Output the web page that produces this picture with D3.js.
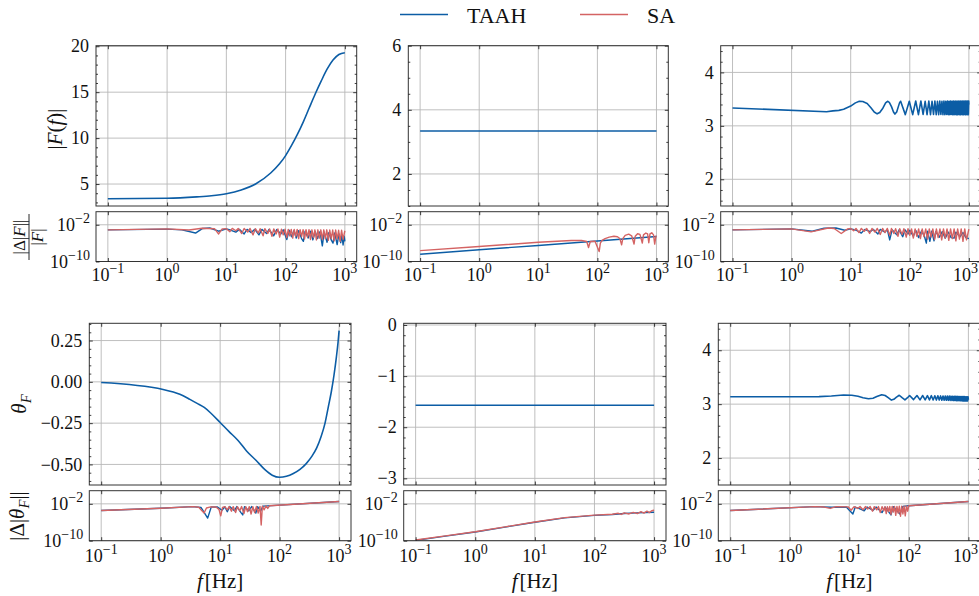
<!DOCTYPE html>
<html><head><meta charset="utf-8">
<script src="https://cdn.jsdelivr.net/npm/d3@7"></script>
<style>
body{margin:0;background:#fff}
svg{display:block}
text{font-family:"Liberation Serif","DejaVu Serif",serif;fill:#111}
</style>
</head><body>
<svg id="c" width="979" height="596"></svg>
<script>
// ---------------- DATA ----------------
const seriesNames = ["TAAH", "SA"];
const xTickVals = [0.1, 1, 10, 100, 1000];
const xTickExps = ["−1", "0", "1", "2", "3"];
const errTickVals = [1e-10, 1e-2];
const errTickExps = ["−10", "−2"];

// main panels: [f (Hz), value]  (TAAH)
const magLeft = [[0.1,3.40],[1,3.45],[3.16,3.6],[5.6,3.72],[10,3.94],[17.8,4.35],[31.6,5.03],[56,6.2],[79,7.2],[100,8.1],[126,9.2],[158,10.4],[200,11.8],[251,13.3],[316,14.8],[398,16.2],[501,17.5],[631,18.5],[794,19.1],[1000,19.3]];
const magMid = [[0.1,3.34],[1000,3.34]];
const magRight = [[0.1,3.335],[3.9,3.265],[5,3.28],[6.3,3.29],[7.6,3.31],[10,3.37],[12,3.43],[14,3.46],[16,3.455],[19,3.42],[22,3.34],[25,3.26],[28,3.225],[31,3.25],[35,3.33],[39,3.43],[42,3.46],[45,3.44],[49,3.36],[53,3.26],[56,3.22],[60,3.26],[64,3.36],[67,3.43],[70,3.46],
[84,3.21],[98,3.46],[112,3.21],[126,3.465],[140,3.21],[154,3.465],[168,3.215],[182,3.46],[196,3.21],[210,3.465],[224,3.21],[238,3.46],[252,3.215],[266,3.465],[280,3.21],[294,3.46],[308,3.21],[322,3.465],[336,3.215],[350,3.46],[364,3.21],[378,3.465],[392,3.21],[406,3.46],[420,3.215],[434,3.465],[448,3.21],[462,3.46],[476,3.21],[490,3.465],[504,3.215],[518,3.46],[532,3.21],[546,3.465],[560,3.21],[574,3.46],[588,3.215],[602,3.465],[616,3.21],[630,3.46],[644,3.21],[658,3.465],[672,3.215],[686,3.46],[700,3.21],[714,3.465],[728,3.21],[742,3.46],[756,3.215],[770,3.465],[784,3.21],[798,3.46],[812,3.21],[826,3.465],[840,3.215],[854,3.46],[868,3.21],[882,3.465],[896,3.21],[910,3.46],[924,3.215],[938,3.465],[952,3.21],[966,3.46],[980,3.21],[994,3.465],[1000,3.40]];

const phaseLeft = [[0.1,-0.004],[1.1,-0.046],[2.1,-0.075],[3.1,-0.106],[4.1,-0.13],[5.4,-0.155],[7,-0.19],[10,-0.246],[14,-0.3],[20,-0.355],[28,-0.42],[40,-0.475],[56,-0.53],[75,-0.565],[100,-0.578],[130,-0.572],[170,-0.555],[220,-0.53],[280,-0.495],[350,-0.45],[420,-0.40],[500,-0.33],[580,-0.25],[660,-0.15],[740,-0.06],[820,0.04],[900,0.15],[960,0.24],[1000,0.31]];
const phaseMid = [[0.1,-1.5708],[1000,-1.5708]];
const phaseRight = [[0.1,3.137],[1.1,3.137],[2.1,3.138],[3.1,3.14],[5,3.15],[8,3.17],[11,3.165],[14,3.145],[17,3.12],[21,3.10],[25,3.11],[29,3.14],[35,3.175],[40,3.16],[45,3.12],[51,3.075],[56,3.09],[62,3.13],[69,3.165],[77,3.12],[86,3.08],[95,3.12],[103,3.16],
[120,3.085],[137,3.16],[154,3.08],[171,3.16],[188,3.08],[205,3.158],[222,3.078],[239,3.157],[256,3.077],[273,3.155],[290,3.076],[307,3.154],[324,3.075],[341,3.153],[358,3.074],[375,3.152],[392,3.073],[409,3.151],[426,3.072],[443,3.15],[460,3.071],[477,3.149],[494,3.07],[511,3.148],[528,3.069],[545,3.147],[562,3.068],[579,3.146],[596,3.067],[613,3.145],[630,3.066],[647,3.144],[664,3.065],[681,3.143],[698,3.064],[715,3.142],[732,3.063],[749,3.141],[766,3.062],[783,3.14],[800,3.061],[817,3.14],[834,3.06],[851,3.139],[868,3.06],[885,3.138],[902,3.06],[919,3.137],[936,3.06],[953,3.136],[970,3.06],[987,3.135],[1000,3.08]];

// error panels: [log10 f, log10 error]
const errMagLeftTAAH = [[-1,-3.1],[0,-2.95],[0.25,-3.1],[0.48,-3.8],[0.6,-2.8],[0.72,-2.7],[0.87,-3.4],[1.0,-2.9],[1.08,-3.2],[1.16,-3.6],[1.22,-3.0],[1.3,-4.0],[1.35,-3.0],[1.42,-3.7],[1.48,-3.0],[1.55,-4.2],[1.6,-3.0],[1.68,-3.9],[1.72,-3.0],[1.8,-4.4],[1.85,-3.05],[1.92,-4.0],[1.96,-3.1],[2.02,-5.2],[2.06,-3.2],[2.1,-4.6],[2.14,-3.3],[2.18,-4.9],[2.22,-3.3],[2.27,-5.0],[2.3,-5.6],[2.33,-3.4],[2.38,-4.9],[2.42,-3.4],[2.46,-5.3],[2.5,-3.5],[2.54,-5.0],[2.58,-3.5],[2.62,-6.6],[2.65,-3.6],[2.7,-5.8],[2.73,-3.7],[2.77,-5.3],[2.8,-6.0],[2.83,-3.8],[2.87,-6.3],[2.9,-4.0],[2.93,-5.9],[2.95,-4.2],[2.97,-6.4],[2.99,-4.5],[3.0,-5.6]];
const errMagLeftSA = [[-1,-3.1],[0,-2.9],[0.37,-3.15],[0.59,-2.75],[0.8,-2.85],[0.87,-4.0],[0.93,-2.9],[1.0,-2.85],[1.06,-3.5],[1.1,-2.8],[1.16,-3.3],[1.2,-2.8],[1.26,-3.9],[1.3,-2.8],[1.36,-3.6],[1.4,-2.8],[1.45,-4.2],[1.49,-2.85],[1.54,-3.8],[1.57,-2.85],[1.62,-4.4],[1.65,-2.85],[1.7,-3.9],[1.73,-2.9],[1.77,-4.5],[1.8,-2.9],[1.84,-4.0],[1.87,-2.9],[1.9,-4.7],[1.93,-2.95],[1.96,-4.2],[1.99,-2.95],[2.02,-4.8],[2.045,-3.0],[2.07,-4.4],[2.095,-3.0],[2.12,-4.9],[2.145,-3.0],[2.17,-4.5],[2.195,-3.0],[2.22,-5.0],[2.245,-3.05],[2.27,-4.6],[2.295,-3.05],[2.32,-5.1],[2.345,-3.05],[2.37,-4.7],[2.395,-3.05],[2.42,-5.2],[2.445,-3.1],[2.47,-4.8],[2.495,-3.1],[2.52,-5.3],[2.545,-3.1],[2.57,-4.9],[2.595,-3.1],[2.62,-5.2],[2.645,-3.1],[2.67,-5.0],[2.695,-3.1],[2.72,-5.4],[2.745,-3.15],[2.77,-5.0],[2.795,-3.15],[2.82,-5.5],[2.845,-3.15],[2.87,-5.1],[2.895,-3.2],[2.92,-5.6],[2.945,-3.2],[2.97,-5.2],[3.0,-3.3]];
const errMagMidTAAH = [[-1,-8.42],[0,-7.45],[1,-6.5],[2,-5.52],[3,-4.55]];
const errMagMidSA = [[-1,-7.62],[0,-6.74],[1,-5.8],[1.56,-5.43],[1.73,-5.43],[1.82,-5.65],[1.85,-6.96],[1.88,-5.65],[1.96,-5.6],[2.03,-7.84],[2.05,-6.0],[2.08,-5.4],[2.13,-5.0],[2.2,-4.7],[2.28,-4.5],[2.34,-4.6],[2.38,-5.0],[2.41,-6.38],[2.43,-5.0],[2.47,-4.3],[2.53,-4.04],[2.58,-4.4],[2.62,-6.2],[2.64,-4.5],[2.68,-3.95],[2.72,-4.1],[2.76,-6.0],[2.78,-4.2],[2.82,-3.8],[2.85,-4.0],[2.87,-5.9],[2.89,-4.0],[2.92,-3.75],[2.95,-4.2],[2.97,-6.2],[2.99,-4.5],[3.0,-4.55]];
const errMagRightTAAH = [[-1,-3.1],[0,-2.9],[0.2,-3.2],[0.35,-3.4],[0.55,-2.75],[0.75,-2.7],[0.9,-3.2],[1.0,-2.9],[1.1,-3.2],[1.18,-3.8],[1.24,-3.0],[1.33,-3.5],[1.38,-3.0],[1.46,-4.0],[1.5,-3.0],[1.58,-3.6],[1.62,-3.05],[1.66,-5.3],[1.7,-3.1],[1.78,-4.2],[1.82,-3.1],[1.88,-4.6],[1.92,-3.1],[1.97,-4.0],[2.0,-3.2],[2.06,-4.5],[2.1,-3.2],[2.15,-4.8],[2.2,-3.3],[2.25,-4.6],[2.28,-6.0],[2.3,-3.4],[2.34,-5.6],[2.37,-3.4],[2.41,-5.5],[2.44,-3.5],[2.5,-4.7],[2.55,-3.5],[2.6,-4.9],[2.65,-3.6],[2.7,-4.8],[2.75,-4.9],[2.78,-3.6],[2.85,-4.6],[2.9,-3.7],[2.95,-4.8],[3.0,-5.0]];
const errMagRightSA = [[-1,-3.1],[0,-2.9],[0.33,-3.55],[0.62,-2.7],[0.72,-2.8],[0.84,-3.9],[0.95,-2.9],[1.0,-2.8],[1.05,-3.3],[1.09,-2.8],[1.14,-3.7],[1.18,-2.8],[1.23,-3.4],[1.27,-2.8],[1.32,-3.9],[1.36,-2.8],[1.41,-3.6],[1.45,-2.8],[1.5,-4.1],[1.54,-2.8],[1.58,-3.7],[1.62,-2.8],[1.66,-4.3],[1.69,-2.8],[1.73,-3.9],[1.76,-2.85],[1.8,-4.5],[1.83,-2.85],[1.87,-4.1],[1.9,-2.85],[1.94,-4.7],[1.97,-2.85],[2.0,-4.3],[2.03,-2.9],[2.06,-4.9],[2.09,-2.9],[2.12,-4.5],[2.15,-2.9],[2.18,-5.0],[2.21,-2.9],[2.24,-4.6],[2.27,-2.9],[2.3,-5.1],[2.33,-2.9],[2.36,-4.7],[2.39,-2.9],[2.42,-5.2],[2.45,-2.9],[2.48,-4.8],[2.51,-2.9],[2.54,-5.3],[2.57,-2.9],[2.6,-4.9],[2.63,-2.9],[2.66,-5.4],[2.69,-2.9],[2.72,-5.0],[2.75,-2.9],[2.78,-5.5],[2.81,-2.9],[2.84,-5.1],[2.87,-2.9],[2.9,-5.6],[2.93,-2.9],[2.96,-5.3],[3.0,-2.95]];

const errPhaseLeftTAAH = [[-1,-3.45],[0,-2.95],[0.54,-2.6],[0.68,-2.8],[0.79,-5.1],[0.85,-2.7],[0.95,-2.65],[1.03,-3.4],[1.08,-2.65],[1.12,-3.7],[1.16,-2.6],[1.24,-3.5],[1.28,-2.6],[1.35,-3.9],[1.38,-4.4],[1.41,-2.6],[1.48,-3.5],[1.53,-2.6],[1.6,-4.0],[1.63,-2.6],[1.68,-3.6],[1.72,-2.5],[1.8,-2.45],[3.0,-1.5]];
const errPhaseLeftSA = [[-1,-3.45],[0,-2.95],[0.54,-2.6],[0.64,-2.75],[0.73,-4.0],[0.77,-2.9],[0.84,-2.65],[0.93,-2.7],[0.98,-3.2],[1.01,-4.6],[1.04,-2.8],[1.08,-2.6],[1.12,-3.3],[1.15,-2.6],[1.19,-3.6],[1.22,-2.6],[1.26,-3.9],[1.29,-2.6],[1.33,-3.5],[1.36,-2.6],[1.4,-4.1],[1.43,-2.6],[1.46,-3.7],[1.49,-2.6],[1.52,-4.2],[1.55,-2.6],[1.58,-3.9],[1.61,-2.55],[1.64,-4.0],[1.67,-2.55],[1.69,-6.6],[1.71,-2.5],[1.74,-3.3],[1.77,-2.45],[1.8,-3.0],[1.83,-2.42],[3.0,-1.5]];
const errPhaseMidTAAH = [[-1,-9.93],[-0.5,-9.0],[0,-8.1],[0.5,-7.05],[1,-6.0],[1.5,-5.05],[2,-4.5],[2.3,-4.3],[2.5,-4.1],[2.7,-3.97],[3,-3.83]];
const errPhaseMidSA = [[-1,-9.85],[-0.5,-8.95],[0,-8.05],[0.5,-7.0],[1,-5.95],[1.5,-5.0],[2,-4.45],[2.3,-4.25],[2.4,-4.05],[2.45,-4.3],[2.5,-3.95],[2.58,-4.2],[2.65,-3.85],[2.72,-4.1],[2.78,-3.7],[2.83,-4.0],[2.88,-3.6],[2.92,-3.9],[2.96,-3.5],[3.0,-3.4]];
const errPhaseRightTAAH = [[-1,-3.45],[0.42,-2.6],[0.7,-2.75],[0.95,-2.7],[1.06,-4.2],[1.1,-2.7],[1.2,-3.2],[1.25,-3.5],[1.3,-2.7],[1.4,-3.4],[1.45,-2.7],[1.55,-3.9],[1.6,-2.7],[1.7,-4.4],[1.74,-2.6],[1.85,-4.2],[1.9,-2.55],[2.0,-2.4],[3.0,-1.5]];
const errPhaseRightSA = [[-1,-3.45],[0.42,-2.6],[0.58,-2.7],[0.68,-3.0],[0.78,-2.6],[0.98,-2.65],[1.03,-3.4],[1.08,-2.6],[1.14,-3.0],[1.18,-2.6],[1.23,-3.3],[1.27,-2.6],[1.31,-3.1],[1.35,-2.6],[1.39,-3.6],[1.42,-2.6],[1.46,-3.3],[1.49,-2.6],[1.52,-3.9],[1.55,-2.6],[1.58,-3.5],[1.6,-2.6],[1.62,-4.1],[1.64,-2.6],[1.66,-3.7],[1.68,-2.55],[1.7,-4.3],[1.72,-2.55],[1.74,-3.8],[1.76,-2.55],[1.78,-4.5],[1.8,-2.55],[1.82,-4.0],[1.84,-2.5],[1.86,-4.7],[1.88,-2.5],[1.9,-4.2],[1.92,-2.5],[1.94,-4.6],[1.96,-2.45],[1.98,-3.6],[2.0,-2.4],[3.0,-1.5]];

// tick labels of main panels
const ticksMagLeft = [5,10,15,20], labMagLeft = ["5","10","15","20"];
const ticksMagMid = [2,4,6], labMagMid = ["2","4","6"];
const ticksMagRight = [2,3,4], labMagRight = ["2","3","4"];
const ticksPhLeft = [0.25,0,-0.25,-0.5], labPhLeft = ["0.25","0.00","−0.25","−0.50"];
const ticksPhMid = [0,-1,-2,-3], labPhMid = ["0","−1","−2","−3"];
const ticksPhRight = [2,3,4], labPhRight = ["2","3","4"];

// ---------------- DRAWING ----------------
const BLUE = "#0C5DA5", RED = "#D46363";
const svg = d3.select("#c");
const defs = svg.append("defs");
let clipId = 0;
const TICK_FS = 18;
const W = 979;

const L = {
  top: {main:[45.7,206], sub:[211.7,261.5], cols:[[96,356.7],[408.3,668.3],[720.7,980.7]]},
  bot: {main:[323.3,485], sub:[490.7,540.7], cols:[[89.3,351],[403.7,666],[718.3,980.3]]}
};
const xDomain = [Math.pow(10,-1.2), Math.pow(10,3.2)];

function axisTicks(g, scale, orient, vals, size){
  const f = {bottom:d3.axisBottom, top:d3.axisTop, left:d3.axisLeft, right:d3.axisRight}[orient];
  g.call(f(scale).tickValues(vals).tickSizeInner(-size).tickSizeOuter(0).tickFormat(""));
  g.select(".domain").remove();
  g.selectAll(".tick line").attr("stroke","#111").attr("stroke-width",0.8);
}

function powLabel(g, x, y, exp, anchor, fs){
  const t = g.append("text").attr("x",x).attr("y",y).attr("text-anchor",anchor)
    .attr("font-size",fs);
  t.append("tspan").text("10");
  t.append("tspan").attr("dy",-fs*0.42).attr("font-size",fs*0.78).text(exp);
  // keep the label inside the picture
  const bb = t.node().getBBox();
  if (bb.x + bb.width > W - 1) t.attr("text-anchor","end").attr("x", W - 1);
  return t;
}

function panel(o){
  const [x0,x1] = o.xr, [y0,y1] = o.yr;
  const x = d3.scaleLog().domain(xDomain).range([x0,x1]);
  const y = o.log ? d3.scaleLog().domain(o.ydom).range([y1,y0])
                  : d3.scaleLinear().domain(o.ydom).range([y1,y0]);
  const g = svg.append("g");
  const grid = g.append("g").attr("stroke","#b8b8b8").attr("stroke-width",0.9);
  xTickVals.forEach(v=>grid.append("line").attr("x1",x(v)).attr("x2",x(v)).attr("y1",y0).attr("y2",y1));
  o.yticks.forEach(v=>grid.append("line").attr("x1",x0).attr("x2",x1).attr("y1",y(v)).attr("y2",y(v)));
  const id = "clip"+(clipId++);
  defs.append("clipPath").attr("id",id).append("rect").attr("x",x0).attr("y",y0).attr("width",x1-x0).attr("height",y1-y0);
  const lg = g.append("g").attr("clip-path",`url(#${id})`);
  o.series.forEach(s=>{
    const line = d3.line().x(d=>x(d[0])).y(d=>y(d[1])).curve(s.curve || d3.curveLinear);
    lg.append("path").datum(s.data).attr("d",line).attr("fill","none")
      .attr("stroke",s.color).attr("stroke-width",s.w||1.5).attr("stroke-linejoin","round");
  });
  g.append("rect").attr("x",x0).attr("y",y0).attr("width",x1-x0).attr("height",y1-y0)
    .attr("fill","none").attr("stroke","#333").attr("stroke-width",1);
  axisTicks(g.append("g").attr("transform",`translate(0,${y1})`), x, "bottom", xTickVals, 3.5);
  axisTicks(g.append("g").attr("transform",`translate(0,${y0})`), x, "top", xTickVals, 3.5);
  axisTicks(g.append("g").attr("transform",`translate(${x0},0)`), y, "left", o.yticks, 3.5);
  axisTicks(g.append("g").attr("transform",`translate(${x1},0)`), y, "right", o.yticks, 3.5);
  if (o.minor){
    axisTicks(g.append("g").attr("transform",`translate(${x0},0)`), y, "left", o.minor, 2);
    axisTicks(g.append("g").attr("transform",`translate(${x1},0)`), y, "right", o.minor, 2);
  }
  if (o.log){
    o.yticks.forEach((v,i)=>powLabel(g, x0-6, y(v)+6, o.ylabels[i], "end", TICK_FS));
  } else {
    o.yticks.forEach((v,i)=>g.append("text").attr("x",x0-7).attr("y",y(v)).attr("dy","0.34em")
      .attr("text-anchor","end").attr("font-size",TICK_FS).text(o.ylabels[i]));
  }
  if (o.xlabels){
    xTickVals.forEach((v,i)=>powLabel(g, x(v), y1+o.xlabDy, xTickExps[i], "middle", TICK_FS));
  }
  return {x,y,g};
}

function minorRange(a,b,step,majors){
  return d3.range(a,b+step/2,step).map(v=>+v.toFixed(4)).filter(v=>!majors.some(m=>Math.abs(m-v)<1e-6));
}
const toErr = arr => arr.map(d=>[Math.pow(10,d[0]), Math.pow(10,d[1])]);
const errDom = [1e-10, Math.pow(10,0.85)];

const mains = [
  {row:"top", col:0, data:magLeft, ydom:[2.61,20.06], yt:ticksMagLeft, yl:labMagLeft, minor:minorRange(3,20,1,ticksMagLeft), curve:d3.curveMonotoneX},
  {row:"top", col:1, data:magMid, ydom:[1,6], yt:ticksMagMid, yl:labMagMid, minor:minorRange(1,6,0.5,ticksMagMid)},
  {row:"top", col:2, data:magRight, ydom:[1.5,4.5], yt:ticksMagRight, yl:labMagRight, minor:minorRange(1.6,4.4,0.2,ticksMagRight)},
  {row:"bot", col:0, data:phaseLeft, ydom:[-0.6245,0.3545], yt:ticksPhLeft, yl:labPhLeft, minor:minorRange(-0.6,0.35,0.05,ticksPhLeft), curve:d3.curveMonotoneX},
  {row:"bot", col:1, data:phaseMid, ydom:[-3.13,0.033], yt:ticksPhMid, yl:labPhMid, minor:minorRange(-3,0,0.2,ticksPhMid)},
  {row:"bot", col:2, data:phaseRight, ydom:[1.5,4.5], yt:ticksPhRight, yl:labPhRight, minor:minorRange(1.6,4.4,0.2,ticksPhRight)}
];
mains.forEach(m=>{
  panel({xr:L[m.row].cols[m.col], yr:L[m.row].main, ydom:m.ydom, yticks:m.yt, ylabels:m.yl, minor:m.minor,
    series:[{data:m.data, color:BLUE, w:1.6, curve:m.curve}]});
});

const subs = [
  {row:"top", col:0, a:errMagLeftTAAH, b:errMagLeftSA, dy:19},
  {row:"top", col:1, a:errMagMidTAAH, b:errMagMidSA, dy:19},
  {row:"top", col:2, a:errMagRightTAAH, b:errMagRightSA, dy:19},
  {row:"bot", col:0, a:errPhaseLeftTAAH, b:errPhaseLeftSA, dy:21},
  {row:"bot", col:1, a:errPhaseMidTAAH, b:errPhaseMidSA, dy:21},
  {row:"bot", col:2, a:errPhaseRightTAAH, b:errPhaseRightSA, dy:21}
];
subs.forEach(s=>{
  panel({xr:L[s.row].cols[s.col], yr:L[s.row].sub, ydom:errDom, log:true, yticks:errTickVals, ylabels:errTickExps,
    xlabels:true, xlabDy:s.dy,
    series:[{data:toErr(s.a), color:BLUE, w:1.4},{data:toErr(s.b), color:RED, w:1.4}]});
});

// ---------- axis labels ----------
const LFS = 21;
function rotLabel(cx, cy, parts, fs){
  const t = svg.append("text").attr("transform",`translate(${cx},${cy}) rotate(-90)`)
    .attr("text-anchor","middle").attr("font-size",fs);
  parts.forEach(p=>{
    const ts = t.append("tspan").text(p.t);
    if (p.i) ts.attr("font-style","italic");
    if (p.sub) ts.attr("font-size",fs*0.7).attr("dy",fs*0.25);
    if (p.up) ts.attr("dy",-fs*0.25);
  });
  return t;
}
rotLabel(62, 129, [{t:"|"},{t:"F",i:1},{t:"("},{t:"f",i:1},{t:")|"}], LFS);
rotLabel(26, 404, [{t:"θ",i:1},{t:"F",i:1,sub:1}], LFS);
rotLabel(24, 516, [{t:"|Δ|"},{t:"θ",i:1},{t:"F",i:1,sub:1},{t:"||",up:1}], LFS);
{
  const fg = svg.append("g").attr("transform","translate(29,237) rotate(-90)");
  fg.append("text").attr("x",0).attr("y",-4).attr("text-anchor","middle").attr("font-size",17)
    .html('|Δ|<tspan font-style="italic">F</tspan>||');
  fg.append("line").attr("x1",-23).attr("x2",23).attr("y1",0).attr("y2",0).attr("stroke","#111").attr("stroke-width",0.9);
  fg.append("text").attr("x",0).attr("y",14).attr("text-anchor","middle").attr("font-size",17)
    .html('|<tspan font-style="italic">F</tspan>|');
}
L.bot.cols.forEach(c=>{
  const cx = Math.min((c[0]+c[1])/2, 979);
  const t = svg.append("text").attr("x",cx).attr("y",588).attr("text-anchor","middle").attr("font-size",LFS);
  t.append("tspan").attr("font-style","italic").text("f");
  t.append("tspan").attr("dx",2).text("[Hz]");
});

// ---------- legend ----------
const legend = [{name:seriesNames[0], color:BLUE, x:400},{name:seriesNames[1], color:RED, x:580}];
legend.forEach(d=>{
  svg.append("line").attr("x1",d.x).attr("x2",d.x+48).attr("y1",14.5).attr("y2",14.5)
    .attr("stroke",d.color).attr("stroke-width",1.6);
  svg.append("text").attr("x",d.x+67).attr("y",22.5).attr("font-size",22).text(d.name);
});
</script>
</body></html>
